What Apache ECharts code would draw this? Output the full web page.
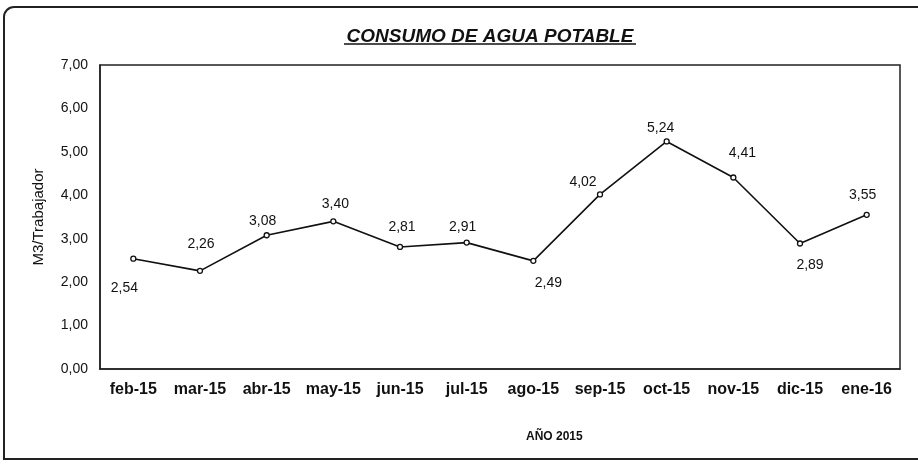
<!DOCTYPE html>
<html>
<head>
<meta charset="utf-8">
<script src="https://cdn.jsdelivr.net/npm/echarts@6/dist/echarts.min.js"></script>
<style>
html,body{margin:0;padding:0;background:#fff;}
#chart{width:918px;height:467px;}
</style>
</head>
<body>
<div id="chart"></div>
<script>
// datos
var meses = ['feb-15','mar-15','abr-15','may-15','jun-15','jul-15','ago-15','sep-15','oct-15','nov-15','dic-15','ene-16'];
var consumo = [2.54, 2.26, 3.08, 3.40, 2.81, 2.91, 2.49, 4.02, 5.24, 4.41, 2.89, 3.55];
var yTicks = [0, 1, 2, 3, 4, 5, 6, 7];

// desplazamiento de cada etiqueta respecto al punto
var labelOffsets = [[-9,29],[1,-27],[-4,-14],[2,-17],[2,-20],[-4,-15],[15,22],[-17,-12],[-6,-13],[9,-24],[10,22],[-4,-20]];

function coma(v){ return v.toFixed(2).replace('.', ','); }

var serieData = [];
for(var i=0;i<consumo.length;i++){
    serieData.push({
        value: consumo[i],
        label: { offset: labelOffsets[i] }
    });
}

var myChart = echarts.init(document.getElementById('chart'));
var option = {
    animation: false,
    backgroundColor: '#fff',
    title: {
        text: 'CONSUMO DE AGUA POTABLE',
        left: 485,
        top: 22,
        textAlign: 'center',
        textStyle: {
            fontFamily: 'Liberation Sans, Arial',
            fontSize: 19,
            fontWeight: 'bold',
            fontStyle: 'italic',
            color: '#111'
        }
    },
    graphic: [
        {
            type: 'rect',
            shape: {x: 4, y: 7, width: 930, height: 452, r: [10, 0, 0, 0]},
            style: {fill: 'none', stroke: '#222', lineWidth: 2},
            silent: true
        },
        {
            type: 'line',
            shape: {x1: 344, y1: 44, x2: 636, y2: 44},
            style: {stroke: '#111', lineWidth: 1.3},
            silent: true
        },
        {
            type: 'text',
            left: 526,
            top: 431,
            style: {
                text: 'AÑO 2015',
                fontFamily: 'Liberation Sans, Arial',
                fontSize: 12,
                fontWeight: 'bold',
                fill: '#111'
            },
            silent: true
        }
    ],
    grid: {left: 100, right: 18, top: 65, bottom: 98, show: true, borderColor: '#222', borderWidth: 1.5},
    xAxis: {
        type: 'category',
        data: meses,
        boundaryGap: true,
        axisLine: {lineStyle: {color: '#222', width: 1.5}},
        axisTick: {show: false},
        axisLabel: {
            interval: 0,
            margin: 13,
            fontFamily: 'Liberation Sans, Arial',
            fontSize: 16,
            fontWeight: 'bold',
            color: '#111'
        },
        splitLine: {show: false}
    },
    yAxis: {
        type: 'value',
        min: yTicks[0],
        max: yTicks[yTicks.length - 1],
        interval: 1,
        name: 'M3/Trabajador',
        nameLocation: 'middle',
        nameGap: 54,
        nameRotate: 90,
        nameTextStyle: {fontFamily: 'Liberation Sans, Arial', fontSize: 15, color: '#111'},
        axisLine: {show: true, lineStyle: {color: '#222', width: 1.5}},
        axisTick: {show: false},
        axisLabel: {
            margin: 12,
            fontFamily: 'Liberation Sans, Arial',
            fontSize: 14,
            color: '#111',
            formatter: function(v){ return coma(v); }
        },
        splitLine: {show: false}
    },
    series: [{
        type: 'line',
        data: serieData,
        symbol: 'circle',
        symbolSize: 5,
        showAllSymbol: true,
        lineStyle: {color: '#111', width: 1.6},
        itemStyle: {color: '#fff', borderColor: '#111', borderWidth: 1.3},
        label: {
            show: true,
            position: 'inside',
            fontFamily: 'Liberation Sans, Arial',
            fontSize: 14,
            color: '#111',
            formatter: function(p){ return coma(p.value); }
        }
    }]
};
myChart.setOption(option);
</script>
</body>
</html>
